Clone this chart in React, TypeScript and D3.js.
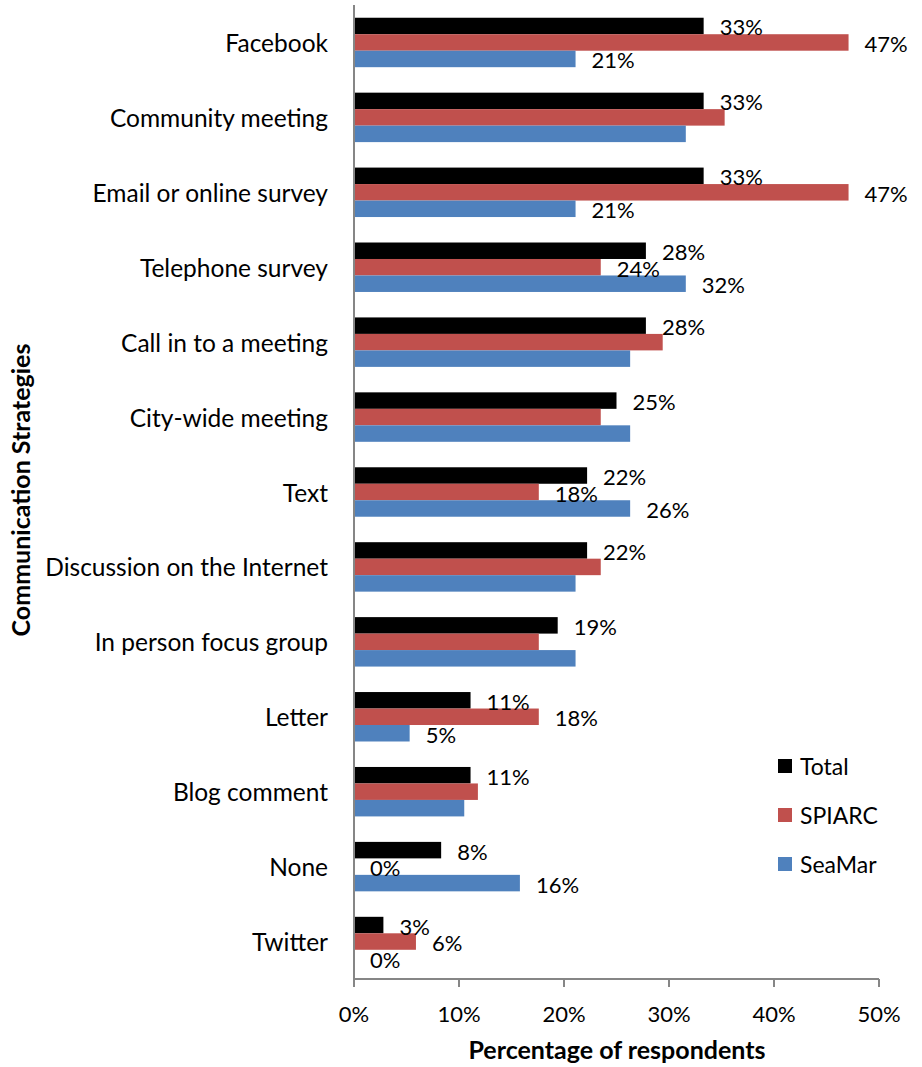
import { useEffect, useRef } from "react";
import * as d3 from "d3";

const categories = [
  "Facebook",
  "Community meeting",
  "Email or online survey",
  "Telephone survey",
  "Call in to a meeting",
  "City-wide meeting",
  "Text",
  "Discussion on the Internet",
  "In person focus group",
  "Letter",
  "Blog comment",
  "None",
  "Twitter",
];

const seriesNames = ["Total", "SPIARC", "SeaMar"];
const seriesColors = ["#000000", "#C0504D", "#4F81BD"];

const totalValues = [33.3, 33.3, 33.3, 27.8, 27.8, 25.0, 22.2, 22.2, 19.4, 11.1, 11.1, 8.3, 2.8];
const spiarcValues = [47.1, 35.3, 47.1, 23.5, 29.4, 23.5, 17.6, 23.5, 17.6, 17.6, 11.8, 0, 5.9];
const seamarValues = [21.1, 31.6, 21.1, 31.6, 26.3, 26.3, 26.3, 21.1, 21.1, 5.3, 10.5, 15.8, 0];

// categories where only the Total bar carries a label
const totalOnlyLabels = [
  "Community meeting",
  "Call in to a meeting",
  "City-wide meeting",
  "Discussion on the Internet",
  "In person focus group",
  "Blog comment",
];

const xTicks = [0, 10, 20, 30, 40, 50];

const FONT = "Lato, 'Open Sans', sans-serif";

export default function App() {
  const svgRef = useRef<SVGSVGElement | null>(null);

  useEffect(() => {
    if (!svgRef.current) return;
    const width = 922;
    const height = 1067;
    const left = 354;
    const right = 879;
    const top = 5;
    const bottom = 979;

    const svg = d3.select(svgRef.current);
    svg.selectAll("*").remove();
    svg.attr("viewBox", `0 0 ${width} ${height}`);

    const x = d3.scaleLinear().domain([0, 50]).range([left, right]);
    const y = d3
      .scaleBand<string>()
      .domain(categories)
      .range([top, bottom])
      .paddingInner(0.34)
      .paddingOuter(0.17);
    const sub = d3
      .scaleBand<string>()
      .domain(seriesNames)
      .range([0, y.bandwidth()]);

    const allValues = [totalValues, spiarcValues, seamarValues];

    const rows = categories.flatMap((cat, i) =>
      seriesNames.map((s, j) => ({
        cat,
        series: s,
        value: allValues[j][i],
        color: seriesColors[j],
        showLabel: j === 0 || !totalOnlyLabels.includes(cat),
      }))
    );

    const g = svg.append("g");

    g.selectAll("rect.bar")
      .data(rows)
      .enter()
      .append("rect")
      .attr("class", "bar")
      .attr("x", x(0))
      .attr("y", (d) => (y(d.cat) ?? 0) + (sub(d.series) ?? 0))
      .attr("width", (d) => x(d.value) - x(0))
      .attr("height", sub.bandwidth())
      .attr("fill", (d) => d.color);

    g.selectAll("text.lbl")
      .data(rows.filter((d) => d.showLabel))
      .enter()
      .append("text")
      .attr("class", "lbl")
      .attr("x", (d) => x(d.value) + 16)
      .attr("y", (d) => (y(d.cat) ?? 0) + (sub(d.series) ?? 0) + sub.bandwidth() / 2 + 1)
      .attr("dominant-baseline", "central")
      .attr("font-family", FONT)
      .attr("font-size", 22)
      .attr("fill", "#000")
      .text((d) => `${Math.round(d.value)}%`);

    // axes
    const axisColor = "#868686";
    g.append("line")
      .attr("x1", left)
      .attr("x2", left)
      .attr("y1", top)
      .attr("y2", bottom)
      .attr("stroke", axisColor)
      .attr("stroke-width", 2);
    g.append("line")
      .attr("x1", left)
      .attr("x2", right)
      .attr("y1", bottom)
      .attr("y2", bottom)
      .attr("stroke", axisColor)
      .attr("stroke-width", 2);
    g.selectAll("line.xtick")
      .data(xTicks)
      .enter()
      .append("line")
      .attr("class", "xtick")
      .attr("x1", (d) => x(d))
      .attr("x2", (d) => x(d))
      .attr("y1", bottom)
      .attr("y2", bottom + 8)
      .attr("stroke", axisColor)
      .attr("stroke-width", 2);
    g.selectAll("text.xtick")
      .data(xTicks)
      .enter()
      .append("text")
      .attr("class", "xtick")
      .attr("x", (d) => x(d))
      .attr("y", 1022)
      .attr("text-anchor", "middle")
      .attr("font-family", FONT)
      .attr("font-size", 22)
      .text((d) => `${d}%`);

    g.selectAll("text.cat")
      .data(categories)
      .enter()
      .append("text")
      .attr("class", "cat")
      .attr("x", 328)
      .attr("y", (d) => (y(d) ?? 0) + y.bandwidth() / 2)
      .attr("dominant-baseline", "central")
      .attr("text-anchor", "end")
      .attr("font-family", FONT)
      .attr("font-size", 24.5)
      .text((d) => d);

    // titles
    g.append("text")
      .attr("x", 617)
      .attr("y", 1059)
      .attr("text-anchor", "middle")
      .attr("font-family", FONT)
      .attr("font-weight", "bold")
      .attr("font-size", 25)
      .text("Percentage of respondents");
    g.append("text")
      .attr("transform", "translate(30,490) rotate(-90)")
      .attr("text-anchor", "middle")
      .attr("font-family", FONT)
      .attr("font-weight", "bold")
      .attr("font-size", 25)
      .text("Communication Strategies");

    // legend
    const legend = g
      .selectAll("g.legend")
      .data(seriesNames)
      .enter()
      .append("g")
      .attr("class", "legend")
      .attr("transform", (_d, i) => `translate(778,${766 + i * 49})`);
    legend
      .append("rect")
      .attr("x", 0)
      .attr("y", -7)
      .attr("width", 14)
      .attr("height", 14)
      .attr("fill", (_d, i) => seriesColors[i]);
    legend
      .append("text")
      .attr("x", 22)
      .attr("y", 0)
      .attr("dominant-baseline", "central")
      .attr("font-family", FONT)
      .attr("font-size", 23)
      .text((d) => d);
  }, []);

  return (
    <div style={{ position: "absolute", left: 0, top: 0, width: 922, height: 1067 }}>
      <svg ref={svgRef} width={922} height={1067}></svg>
    </div>
  );
}
